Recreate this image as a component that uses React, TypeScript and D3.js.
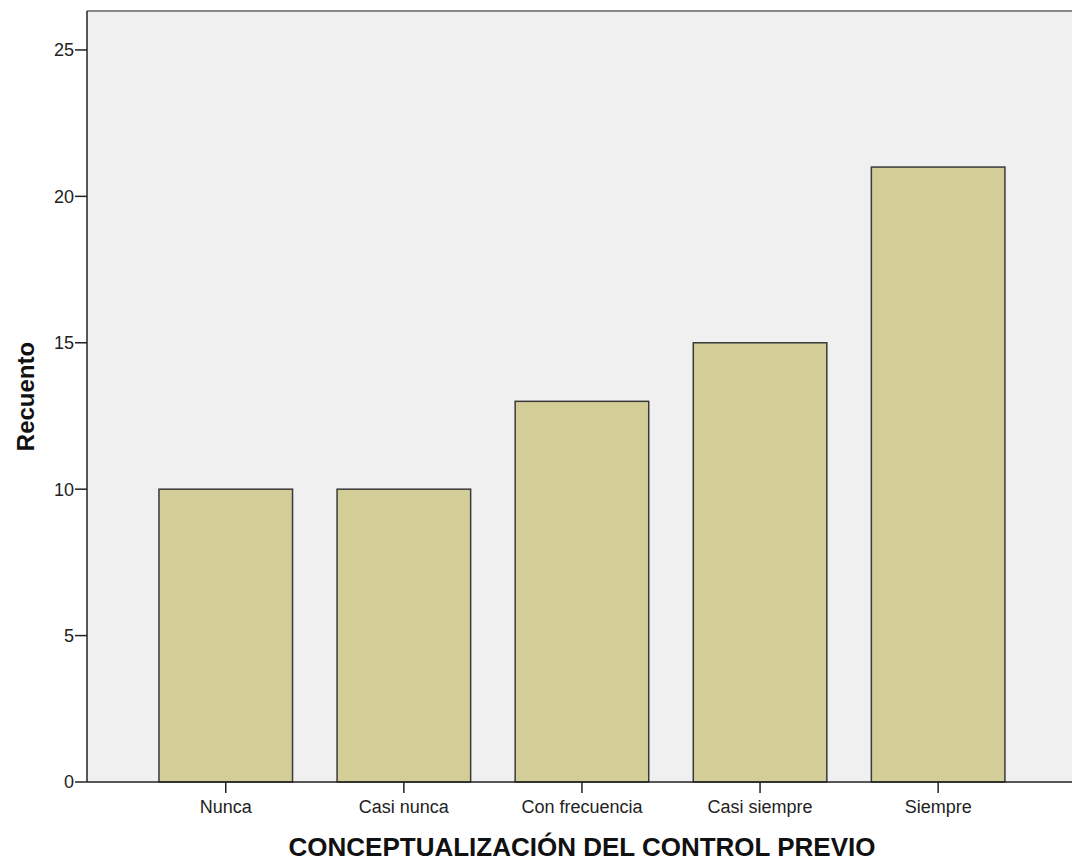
import React from "react";
import * as d3 from "d3";

const categories = ["Nunca", "Casi nunca", "Con frecuencia", "Casi siempre", "Siempre"];
const counts = [10, 10, 13, 15, 21];
const yTicks = [0, 5, 10, 15, 20, 25];
const xTitle = "CONCEPTUALIZACIÓN DEL CONTROL PREVIO";
const yTitle = "Recuento";

export default function App() {
  const W = 1072, H = 861;
  const left = 87, top = 11, right = 1072, bottom = 782;
  const y = d3.scaleLinear().domain([0, 26.33]).range([bottom, top]);
  const x = d3.scaleBand<string>().domain(categories).range([136.7, 1027.2]).paddingInner(0.25).paddingOuter(0.125);
  const font = "'Liberation Sans', Arial, sans-serif";
  return (
    <svg width={W} height={H} style={{ position: "absolute", left: 0, top: 0 }} fontFamily={font}>
      <rect x={0} y={0} width={W} height={H} fill="#ffffff" />
      <rect x={left} y={top} width={right - left} height={bottom - top} fill="#f0f0f0" />
      <line x1={left} x2={right} y1={top} y2={top} stroke="#888" strokeWidth={2} />
      {categories.map((c, i) => (
        <rect key={c} x={x(c)!} y={y(counts[i])} width={x.bandwidth()} height={bottom - y(counts[i])}
          fill="#d3ce97" stroke="#3a3a3a" strokeWidth={1.5} />
      ))}
      <line x1={left} x2={left} y1={top} y2={bottom} stroke="#222" strokeWidth={1.5} />
      <line x1={left} x2={right} y1={bottom} y2={bottom} stroke="#222" strokeWidth={1.5} />
      {yTicks.map(t => (
        <g key={t}>
          <line x1={left - 12} x2={left} y1={y(t)} y2={y(t)} stroke="#222" strokeWidth={1.5} />
          <text x={left - 13} y={y(t)} dy="0.36em" textAnchor="end" fontSize={18} fill="#222">{t}</text>
        </g>
      ))}
      {categories.map(c => {
        const cx = x(c)! + x.bandwidth() / 2;
        return (
          <g key={c}>
            <line x1={cx} x2={cx} y1={bottom} y2={bottom + 11} stroke="#222" strokeWidth={1.5} />
            <text x={cx} y={813} textAnchor="middle" fontSize={18} fill="#222">{c}</text>
          </g>
        );
      })}
      <text x={582} y={856} textAnchor="middle" fontSize={26} fontWeight="bold" fill="#111">{xTitle}</text>
      <text transform={`translate(34, ${396.5}) rotate(-90)`} textAnchor="middle" fontSize={24} fontWeight="bold" fill="#111">{yTitle}</text>
    </svg>
  );
}
